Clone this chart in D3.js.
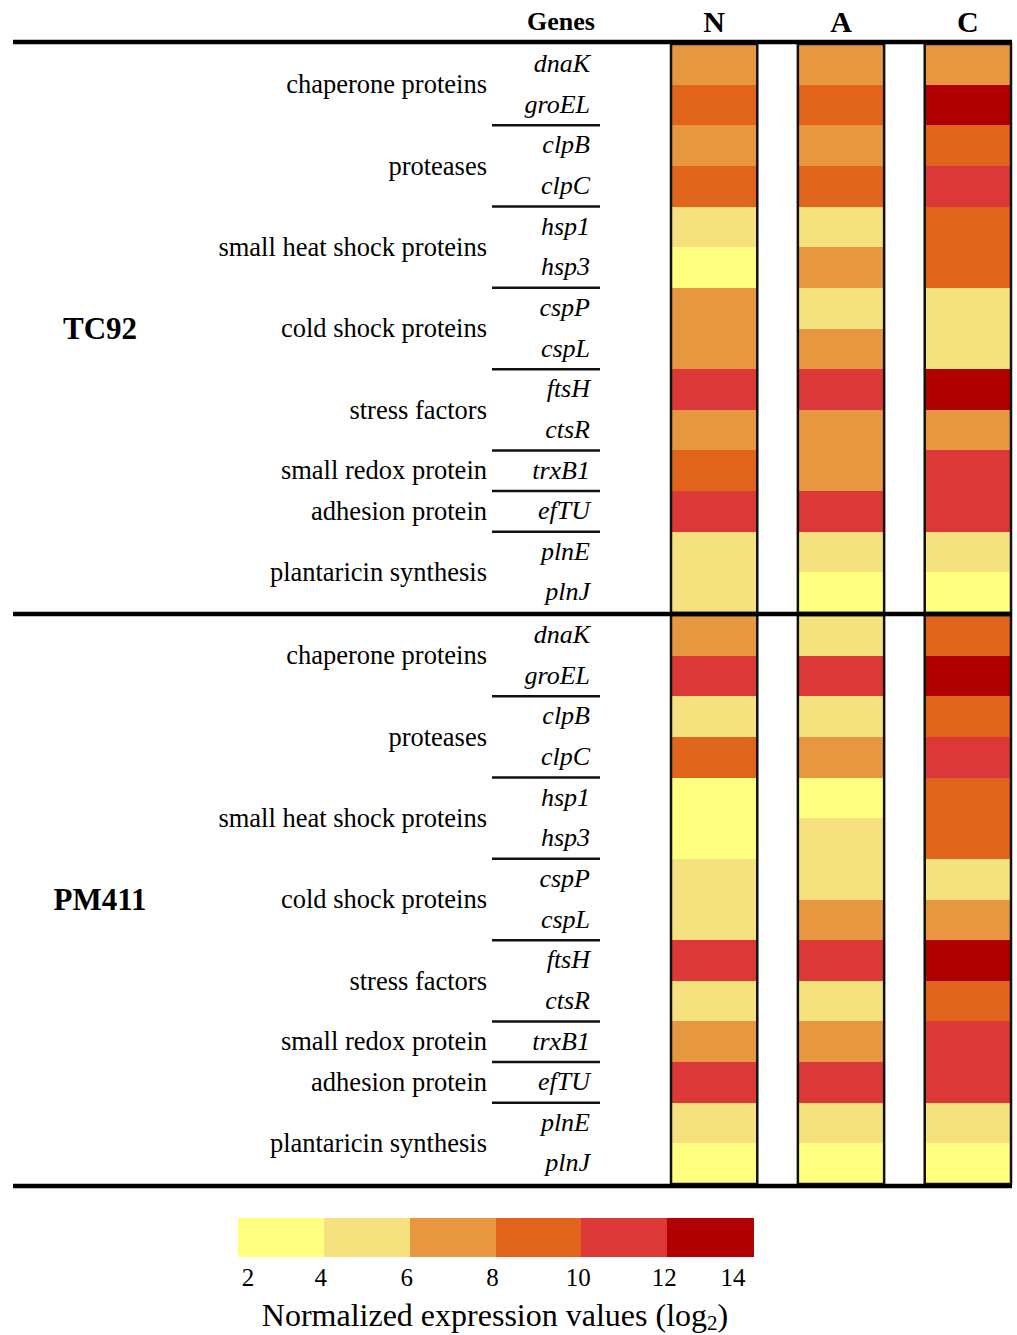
<!DOCTYPE html>
<html lang="en">
<head>
<meta charset="utf-8">
<title>Gene expression heatmap</title>
<script src="https://d3js.org/d3.v7.min.js"></script>
<style type="text/css">
body { margin: 0; background: #fff; }
svg text { font-family: "Liberation Serif", "Times New Roman", serif; fill: #000; }
</style>
</head>
<body>
<div id="vis"></div>
<script>

/* Data */
/* ==== */

var strains = ['TC92', 'PM411'];
var conditions = ['N', 'A', 'C'];
var genes = ['dnaK', 'groEL', 'clpB', 'clpC', 'hsp1', 'hsp3', 'cspP', 'cspL',
             'ftsH', 'ctsR', 'trxB1', 'efTU', 'plnE', 'plnJ'];
var categories = ['chaperone proteins', 'proteases', 'small heat shock proteins',
                  'cold shock proteins', 'stress factors', 'small redox protein',
                  'adhesion protein', 'plantaricin synthesis'];
var categorySizes = [2, 2, 2, 2, 2, 1, 1, 2];

// log2 normalized expression (read as bin midpoints)
var tc92N  = [7, 9, 7, 9, 5, 3, 7, 7, 11, 7, 9, 11, 5, 5];
var tc92A  = [7, 9, 7, 9, 5, 7, 5, 7, 11, 7, 7, 11, 5, 3];
var tc92C  = [7, 13, 9, 11, 9, 9, 5, 5, 13, 7, 11, 11, 5, 3];
var pm411N = [7, 11, 5, 9, 3, 3, 5, 5, 11, 5, 7, 11, 5, 3];
var pm411A = [5, 11, 5, 7, 3, 5, 5, 7, 11, 5, 7, 11, 5, 3];
var pm411C = [9, 13, 9, 11, 9, 9, 5, 7, 13, 9, 11, 11, 5, 3];

var legendTicks = [2, 4, 6, 8, 10, 12, 14];
var binColors = ['#ffff80', '#f5e27f', '#e6973f', '#e0641c', '#dc3838', '#b00000'];
var legendTitle = 'Normalized expression values (log';

var values = {
	TC92: { N: tc92N, A: tc92A, C: tc92C },
	PM411: { N: pm411N, A: pm411A, C: pm411C }
};

/* SVG */
/* === */

var width = 1017, height = 1335;

var svg = d3.select('#vis').append('svg')
	.attr('width', width)
	.attr('height', height);

var color = d3.scaleThreshold()
	.domain(legendTicks.slice(1, -1))
	.range(binColors);

var x = d3.scaleBand()
	.domain(conditions)
	.range([671, 1011])
	.paddingInner(0.32)
	.paddingOuter(0);

var groupTop = 44, groupHeight = 569, groupGap = 2;

function yScale(g) {
	var top = groupTop + g * (groupHeight + groupGap);
	return d3.scaleBand().domain(genes).range([top, top + groupHeight]);
}

/* Header */
svg.append('text')
	.attr('x', 561).attr('y', 30)
	.attr('text-anchor', 'middle')
	.style('font-size', '26px').style('font-weight', 'bold')
	.text('Genes');

svg.selectAll('.colhead')
	.data(conditions)
	.enter().append('text')
		.attr('class', 'colhead')
		.attr('x', function(d) { return x(d) + x.bandwidth() / 2; })
		.attr('y', 32)
		.attr('text-anchor', 'middle')
		.style('font-size', '30px').style('font-weight', 'bold')
		.text(function(d) { return d; });

/* Groups */
strains.forEach(function(strain, g) {

	var y = yScale(g);
	var g0 = svg.append('g').attr('class', 'group-' + strain);

	// cells
	conditions.forEach(function(cond) {
		g0.selectAll('.cell-' + cond)
			.data(values[strain][cond])
			.enter().append('rect')
				.attr('x', x(cond))
				.attr('y', function(d, i) { return y(genes[i]); })
				.attr('width', x.bandwidth())
				.attr('height', y.bandwidth() + 0.5)
				.attr('fill', function(d) { return color(d); })
				.attr('shape-rendering', 'crispEdges');

		g0.append('rect')
			.attr('x', x(cond))
			.attr('y', y.range()[0])
			.attr('width', x.bandwidth())
			.attr('height', groupHeight)
			.attr('fill', 'none')
			.attr('stroke', '#111')
			.attr('stroke-width', 2.5);
	});

	// gene labels
	g0.selectAll('.gene')
		.data(genes)
		.enter().append('text')
			.attr('class', 'gene')
			.attr('x', 590)
			.attr('y', function(d) { return y(d) + y.bandwidth() / 2; })
			.attr('dy', '0.3em')
			.attr('text-anchor', 'end')
			.style('font-size', '26px').style('font-style', 'italic')
			.text(function(d) { return d; });

	// category labels and separators
	var start = 0;
	categories.forEach(function(cat, k) {
		var n = categorySizes[k];
		var top = y(genes[start]);
		var bottom = y(genes[start + n - 1]) + y.bandwidth();
		g0.append('text')
			.attr('x', 487)
			.attr('y', (top + bottom) / 2)
			.attr('dy', '0.33em')
			.attr('text-anchor', 'end')
			.style('font-size', '26.5px')
			.text(cat);
		if (k < categories.length - 1) {
			g0.append('line')
				.attr('x1', 492).attr('x2', 600)
				.attr('y1', bottom).attr('y2', bottom)
				.attr('stroke', '#111')
				.attr('stroke-width', 2.5);
		}
		start += n;
	});

	// strain label
	g0.append('text')
		.attr('x', 100)
		.attr('y', y.range()[0] + groupHeight / 2)
		.attr('dy', '0.35em')
		.attr('text-anchor', 'middle')
		.style('font-size', '31px').style('font-weight', 'bold')
		.text(strain);
});

/* Thick rules */
var rules = [groupTop - 2, groupTop + groupHeight + groupGap / 2, groupTop + 2 * groupHeight + groupGap + 2];
svg.selectAll('.rule')
	.data(rules)
	.enter().append('line')
		.attr('class', 'rule')
		.attr('x1', 13).attr('x2', 1012)
		.attr('y1', function(d) { return d; })
		.attr('y2', function(d) { return d; })
		.attr('stroke', '#000')
		.attr('stroke-width', 4.5);

/* Legend */
var lx = d3.scaleLinear()
	.domain([legendTicks[0], legendTicks[legendTicks.length - 1]])
	.range([238, 753]);

var legend = svg.append('g').attr('class', 'legend');

legend.selectAll('rect')
	.data(binColors)
	.enter().append('rect')
		.attr('x', function(d, i) { return lx(legendTicks[i]); })
		.attr('y', 1218)
		.attr('width', function(d, i) { return lx(legendTicks[i + 1]) - lx(legendTicks[i]) + 0.5; })
		.attr('height', 39)
		.attr('fill', function(d) { return d; })
		.attr('shape-rendering', 'crispEdges');

legend.selectAll('.tick')
	.data(legendTicks)
	.enter().append('text')
		.attr('class', 'tick')
		.attr('x', function(d, i) {
			if (i === 0) return lx(d) + 10;
			if (i === legendTicks.length - 1) return lx(d) - 20;
			return lx(d) - 3;
		})
		.attr('y', 1286)
		.attr('text-anchor', 'middle')
		.style('font-size', '25px')
		.text(function(d) { return d; });

var title = legend.append('text')
	.attr('x', 495)
	.attr('y', 1326)
	.attr('text-anchor', 'middle')
	.style('font-size', '32px');
title.append('tspan').text(legendTitle);
title.append('tspan').attr('dy', 4).style('font-size', '21px').text('2');
title.append('tspan').attr('dy', -4).text(')');

</script>
</body>
</html>
